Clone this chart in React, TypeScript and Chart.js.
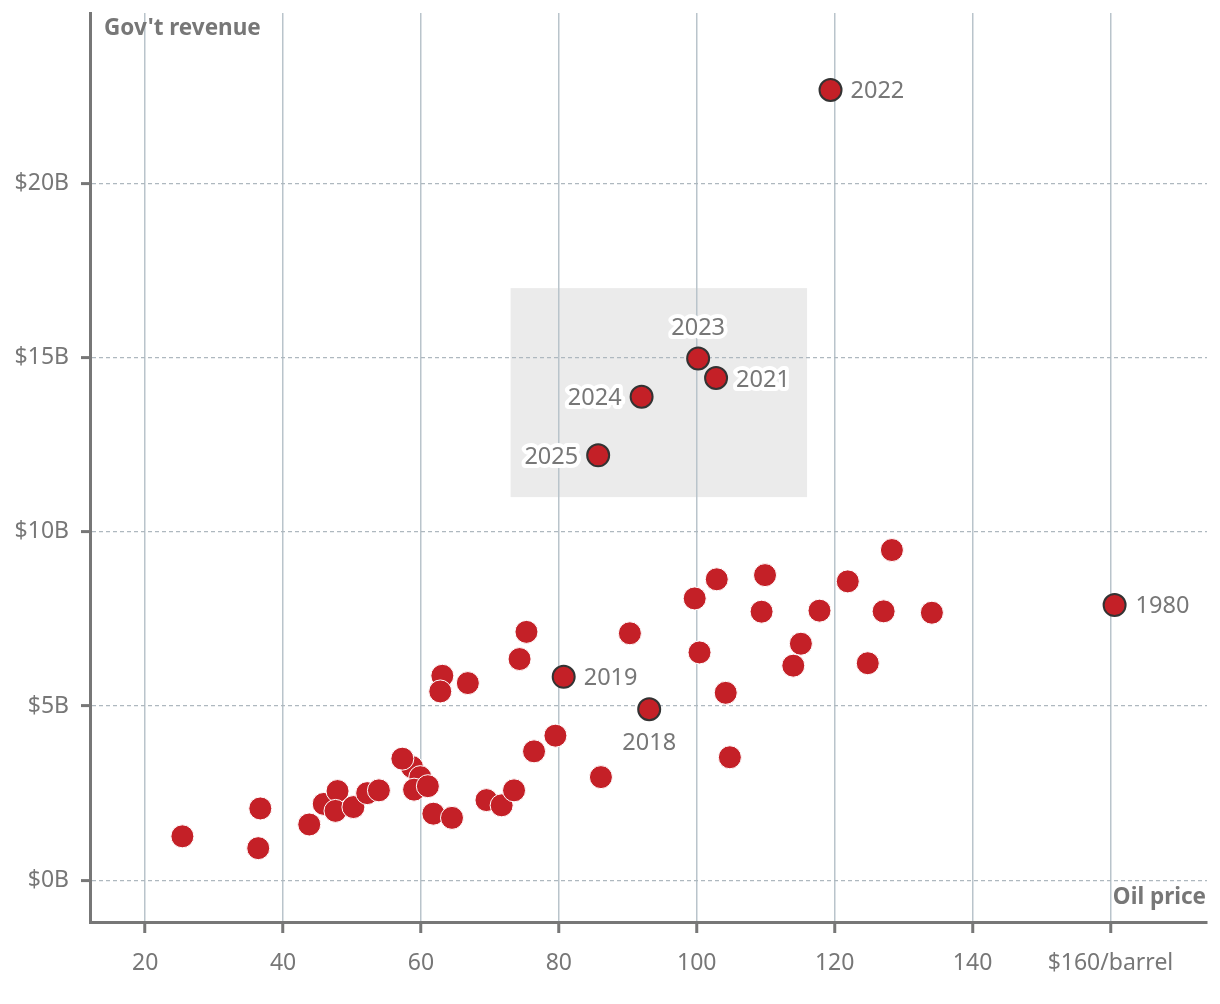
import React, { useEffect, useRef } from "react";
import { Chart, registerables } from "chart.js";

Chart.register(...registerables);

// ---- Data ----
const otherPrice = [
  25.4, 36.4, 36.7, 43.8, 45.9, 47.9, 47.6, 50.2, 52.2, 53.9, 58.7, 57.3, 59.9, 59.0, 61.0,
  61.8, 64.5, 69.5, 71.7, 73.5, 76.4, 79.5, 86.1, 63.1, 62.8, 66.8, 74.3, 75.3, 90.3, 99.7,
  102.9, 109.9, 109.4, 100.4, 104.2, 104.8, 115.1, 114.0, 117.8, 121.9, 128.3, 127.1, 124.8, 134.1,
];
const otherRevenue = [
  1.26, 0.92, 2.06, 1.6, 2.19, 2.56, 1.99, 2.1, 2.5, 2.58, 3.25, 3.49, 2.96, 2.6, 2.7,
  1.91, 1.79, 2.3, 2.15, 2.58, 3.7, 4.15, 2.96, 5.87, 5.42, 5.66, 6.35, 7.13, 7.09, 8.09,
  8.64, 8.76, 7.71, 6.54, 5.38, 3.53, 6.79, 6.16, 7.74, 8.58, 9.48, 7.72, 6.23, 7.68,
];

const labeledYears = ["1980", "2018", "2019", "2021", "2022", "2023", "2024", "2025"];
const labeledPrice = [160.6, 93.1, 80.7, 102.8, 119.4, 100.2, 92.0, 85.7];
const labeledRevenue = [7.9, 4.91, 5.84, 14.42, 22.69, 14.98, 13.88, 12.2];

const xTicks = [20, 40, 60, 80, 100, 120, 140, 160];
const xTickLabels = ["20", "40", "60", "80", "100", "120", "140", "$160/barrel"];
const yTicks = [0, 5, 10, 15, 20];
const yTickLabels = ["$0B", "$5B", "$10B", "$15B", "$20B"];

const boxPrice = [73, 116];
const boxRevenue = [11, 17];

const yAxisTitle = "Gov't revenue";
const xAxisTitle = "Oil price";

// ---- Styles ----
const RED = "#c42027";
const TEXT = "#777777";
const FONT = "'Noto Sans', 'Open Sans', sans-serif";

const labelPlacement: Record<string, { align: CanvasTextAlign; dx: number; dy: number }> = {
  "1980": { align: "left", dx: 21, dy: 1 },
  "2018": { align: "center", dx: 0, dy: 34 },
  "2019": { align: "left", dx: 20, dy: 1 },
  "2021": { align: "left", dx: 20, dy: 2 },
  "2022": { align: "left", dx: 20, dy: 1 },
  "2023": { align: "center", dx: 0, dy: -30 },
  "2024": { align: "right", dx: -20, dy: 2 },
  "2025": { align: "right", dx: -20, dy: 2 },
};

const boxPlugin = {
  id: "highlightBox",
  beforeDraw(chart: any) {
    const { ctx, scales } = chart;
    const x1 = scales.x.getPixelForValue(boxPrice[0]);
    const x2 = scales.x.getPixelForValue(boxPrice[1]);
    const y1 = scales.y.getPixelForValue(boxRevenue[1]);
    const y2 = scales.y.getPixelForValue(boxRevenue[0]);
    ctx.save();
    ctx.fillStyle = "#ebebeb";
    ctx.fillRect(x1, y1, x2 - x1, y2 - y1);
    ctx.restore();
  },
};

const labelsPlugin = {
  id: "pointLabels",
  afterDatasetsDraw(chart: any) {
    const { ctx, scales } = chart;
    ctx.save();
    ctx.font = `23.5px ${FONT}`;
    ctx.textBaseline = "middle";
    ctx.lineJoin = "round";
    labeledYears.forEach((yr, i) => {
      const p = labelPlacement[yr];
      const px = scales.x.getPixelForValue(labeledPrice[i]) + p.dx;
      const py = scales.y.getPixelForValue(labeledRevenue[i]) + p.dy;
      ctx.textAlign = p.align;
      ctx.strokeStyle = "#ffffff";
      ctx.lineWidth = 8;
      ctx.strokeText(yr, px, py);
      ctx.fillStyle = TEXT;
      ctx.fillText(yr, px, py);
    });
    ctx.restore();
  },
  afterDraw(chart: any) {
    const { ctx, chartArea } = chart;
    ctx.save();
    ctx.font = `bold 22.5px ${FONT}`;
    ctx.fillStyle = TEXT;
    ctx.textBaseline = "middle";
    ctx.textAlign = "left";
    ctx.fillText(yAxisTitle, chartArea.left + 14, chartArea.top + 16);
    ctx.textAlign = "right";
    ctx.fillText(xAxisTitle, chartArea.right - 1, chartArea.bottom - 24);
    ctx.restore();
  },
};

export default function App() {
  const ref = useRef<HTMLCanvasElement | null>(null);

  useEffect(() => {
    if (!ref.current) return;
    const chart = new Chart(ref.current, {
      type: "scatter",
      data: {
        datasets: [
          {
            label: "Other years",
            data: otherPrice.map((x, i) => ({ x, y: otherRevenue[i] })),
            backgroundColor: RED,
            borderColor: "#ffffff",
            borderWidth: 1,
            pointRadius: 11.5,
            pointHoverRadius: 11.5,
          },
          {
            label: "Labeled years",
            data: labeledPrice.map((x, i) => ({ x, y: labeledRevenue[i] })),
            backgroundColor: RED,
            borderColor: "#333333",
            borderWidth: 2,
            pointRadius: 11,
            pointHoverRadius: 11,
          },
        ],
      },
      options: {
        responsive: false,
        animation: false,
        events: [],
        layout: { padding: { top: 12, right: 12, left: 0, bottom: 0 } },
        plugins: {
          legend: { display: false },
          tooltip: { enabled: false },
          title: { display: false },
        },
        scales: {
          x: {
            type: "linear",
            min: 12,
            max: 174,
            afterBuildTicks: (s: any) => {
              s.ticks = xTicks.map((v) => ({ value: v }));
            },
            afterFit: (s: any) => {
              s.height = 82;
              s.paddingLeft = 0;
              s.paddingRight = 0;
            },
            ticks: {
              autoSkip: false,
              maxRotation: 0,
              padding: 17,
              color: TEXT,
              font: { family: FONT, size: 23 },
              callback: (v: any) => {
                const idx = xTicks.indexOf(Number(v));
                return idx >= 0 ? xTickLabels[idx] : "";
              },
            },
            grid: {
              color: "#b9c4cb",
              lineWidth: 1.5,
              tickColor: TEXT,
              tickWidth: 3,
              tickLength: 11,
            },
            border: { display: true, color: TEXT, width: 3 },
          },
          y: {
            type: "linear",
            min: -1.2,
            max: 24.9,
            afterBuildTicks: (s: any) => {
              s.ticks = yTicks.map((v) => ({ value: v }));
            },
            afterFit: (s: any) => {
              s.width = 90;
              s.paddingTop = 0;
              s.paddingBottom = 0;
            },
            ticks: {
              autoSkip: false,
              padding: 12,
              color: TEXT,
              font: { family: FONT, size: 23 },
              callback: (v: any) => {
                const idx = yTicks.indexOf(Number(v));
                return idx >= 0 ? yTickLabels[idx] : "";
              },
            },
            grid: {
              color: "#aeb8bf",
              lineWidth: 1.2,
              tickColor: TEXT,
              tickWidth: 3,
              tickLength: 9,
            },
            border: { display: true, color: TEXT, width: 3, dash: [4, 3] },
          },
        },
      },
      plugins: [boxPlugin, labelsPlugin],
    });
    return () => chart.destroy();
  }, []);

  return (
    <div style={{ position: "absolute", left: 0, top: 0, width: 1220, height: 1004, background: "#fff" }}>
      <canvas ref={ref} width={1220} height={1004} style={{ width: 1220, height: 1004, display: "block" }} />
    </div>
  );
}
